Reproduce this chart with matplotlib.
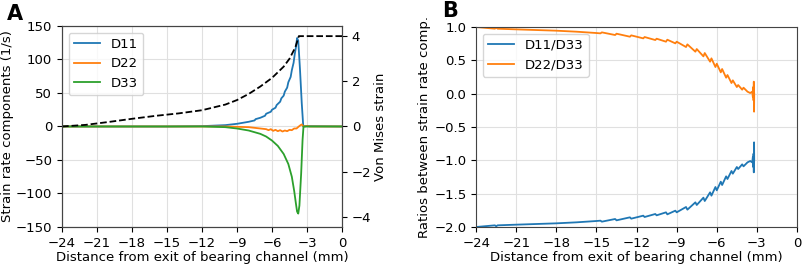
import matplotlib.pyplot as plt

# Panel A: strain rate components vs distance
xa_11 = [-24, -15, -12, -10, -9, -8, -7.5, -7.4, -7, -6.6, -6.5, -6.1, -6, -5.7, -5.6, -5.3, -5.2, -5.0,
         -4.9, -4.7, -4.6, -4.4, -4.3, -4.15, -4.05, -3.95, -3.85, -3.75, -3.6, -3.45, -3.32, -3.0, 0]
d11 = [0, 0, 0.5, 2, 4, 7, 9, 11, 13, 16, 19, 22, 25, 28, 32, 37, 42, 46,
       52, 58, 66, 74, 84, 95, 108, 118, 132, 128, 85, 35, 0, 0.5, 0]

xa_22 = [-24, -10, -8, -7, -6.5, -6.3, -6.1, -5.9, -5.7, -5.5, -5.3, -5.1, -4.9, -4.7, -4.5, -4.3,
         -4.1, -3.9, -3.7, -3.55, -3.45, -3.35, -3.2, -3.0, -2.8, 0]
d22 = [0, 0, -1, -3, -4, -5.5, -4, -6.5, -5, -7, -5.5, -7.5, -6, -7, -5, -5.5,
       -3, -3, 0, 2, 3, 1, 0, 0.8, 0, 0]

xa_33 = [-24, -12, -10, -9, -8, -7, -6.5, -6, -5.5, -5.0, -4.6, -4.3, -4.1, -3.95, -3.85, -3.75,
         -3.65, -3.5, -3.38, -3.3, 0]
d33 = [0, 0, -1, -3, -6, -11, -15, -21, -29, -41, -56, -75, -96, -115, -127, -130,
       -118, -70, -20, 0, 0]

xa_vm = [-24, -22, -20, -18, -16, -14, -12, -10, -9, -8, -7, -6, -5, -4.5, -4, -3.7, 0]
vm = [0, 0.07, 0.2, 0.34, 0.47, 0.58, 0.72, 0.97, 1.17, 1.44, 1.77, 2.15, 2.65, 3.0, 3.5, 4.0, 4.0]

# Panel B: ratios
xb = [-24.0, -22.6, -22.5, -22.4, -21.0, -19.5, -18.0, -16.5, -15.0, -14.7, -14.6, -13.6, -13.5,
      -12.5, -12.4, -11.5, -11.4, -10.6, -10.5, -9.8, -9.7, -9.1, -9.0, -8.3, -8.2, -7.6, -7.5,
      -7.0, -6.9, -6.5, -6.4, -6.1, -6.0, -5.7, -5.6, -5.3, -5.2, -4.9, -4.8, -4.5, -4.4, -4.1,
      -4.0, -3.7, -3.5, -3.35, -3.3, -3.27, -3.25, -3.23, -3.21, -3.2]
r22 = [1.00, 0.975, 0.99, 0.975, 0.965, 0.955, 0.945, 0.93, 0.91, 0.905, 0.92, 0.88, 0.90,
       0.855, 0.875, 0.83, 0.85, 0.805, 0.825, 0.78, 0.81, 0.755, 0.78, 0.70, 0.74, 0.63, 0.67,
       0.56, 0.61, 0.48, 0.53, 0.40, 0.45, 0.32, 0.37, 0.24, 0.28, 0.16, 0.20, 0.10, 0.13, 0.06,
       0.09, 0.03, 0.01, 0.03, -0.05, 0.10, -0.10, 0.18, -0.27, 0.0]
r11 = [-2.00, -1.975, -1.99, -1.975, -1.965, -1.955, -1.945, -1.93, -1.91, -1.905, -1.92, -1.88, -1.90,
       -1.855, -1.875, -1.83, -1.85, -1.805, -1.825, -1.78, -1.81, -1.755, -1.78, -1.70, -1.74, -1.63, -1.67,
       -1.56, -1.61, -1.48, -1.53, -1.40, -1.45, -1.32, -1.37, -1.24, -1.28, -1.16, -1.20, -1.10, -1.13, -1.06,
       -1.09, -1.03, -1.01, -1.03, -0.95, -1.10, -0.90, -1.18, -0.73, -1.0]

xticks = [-24, -21, -18, -15, -12, -9, -6, -3, 0]

plt.rcParams['font.size'] = 9.5
plt.rcParams['axes.edgecolor'] = '#444444'

fig = plt.figure(figsize=(8.03, 2.65), dpi=100)

# 子图A
ax1 = fig.add_axes([0.0772, 0.1434, 0.3487, 0.7586])
ax1.plot(xa_11, d11, color='#1f77b4', lw=1.3, label='D11')
ax1.plot(xa_22, d22, color='#ff7f0e', lw=1.3, label='D22')
ax1.plot(xa_33, d33, color='#2ca02c', lw=1.3, label='D33')
ax1.set_xlim(-24, 0)
ax1.set_ylim(-150, 150)
ax1.set_xticks(xticks)
ax1.set_yticks([-150, -100, -50, 0, 50, 100, 150])
ax1.grid(color='#e0e0e0', lw=0.8)
ax1.set_xlabel('Distance from exit of bearing channel (mm)', labelpad=1)
ax1.set_ylabel('Strain rate components (1/s)', labelpad=1)
ax1.legend(loc='upper left')

ax2 = ax1.twinx()
ax2.plot(xa_vm, vm, color='black', lw=1.3, ls='--')
ax2.set_ylim(-4.45, 4.45)
ax2.set_yticks([-4, -2, 0, 2, 4])
ax2.set_ylabel('Von Mises strain', labelpad=2)

# 子图B
ax3 = fig.add_axes([0.593, 0.1434, 0.3995, 0.7546])
ax3.plot(xb, r11, color='#1f77b4', lw=1.3, label='D11/D33')
ax3.plot(xb, r22, color='#ff7f0e', lw=1.3, label='D22/D33')
ax3.set_xlim(-24, 0)
ax3.set_ylim(-2.0, 1.0)
ax3.set_xticks(xticks)
ax3.set_yticks([-2.0, -1.5, -1.0, -0.5, 0.0, 0.5, 1.0])
ax3.grid(color='#e0e0e0', lw=0.8)
ax3.set_xlabel('Distance from exit of bearing channel (mm)', labelpad=1)
ax3.set_ylabel('Ratios between strain rate comp.', labelpad=2)
ax3.legend(loc='upper left')

fig.text(0.008, 0.985, 'A', fontsize=15, fontweight='bold', va='top')
fig.text(0.551, 0.995, 'B', fontsize=15, fontweight='bold', va='top')

plt.savefig('out.png', dpi=100)
